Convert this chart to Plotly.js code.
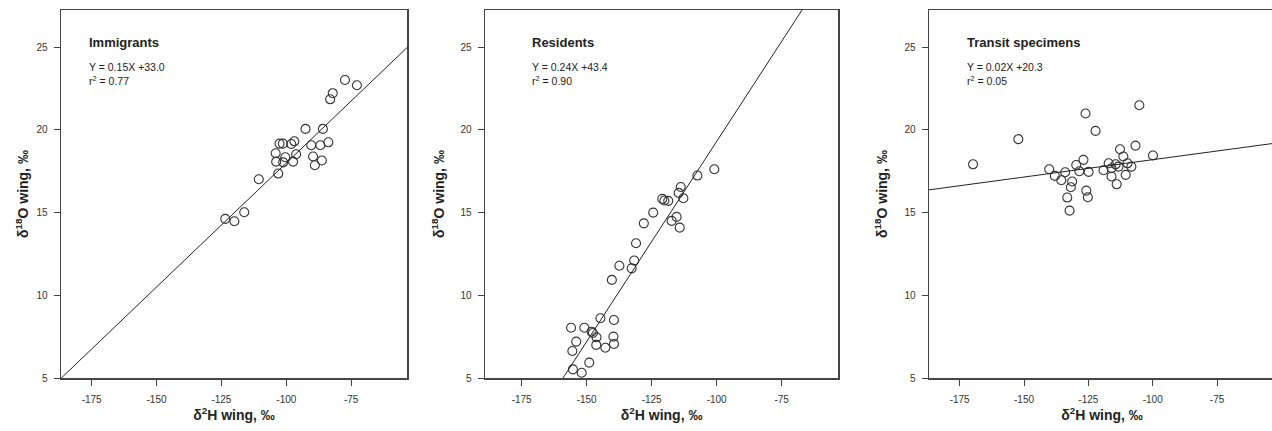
<!DOCTYPE html>
<html><head><meta charset="utf-8">
<script src="https://cdn.plot.ly/plotly-3.0.1.min.js"></script>
<style>html,body{margin:0;padding:0;overflow:hidden;background:#fff}</style>
</head><body><div id="chart" style="width:1280px;height:431px"></div>
<script>
// ---- data ----
const panelNames = ["Immigrants", "Residents", "Transit specimens"];
const equationTexts = ["Y = 0.15X +33.0", "Y = 0.24X +43.4", "Y = 0.02X +20.3"];
const r2Texts = ["r<sup>2</sup> = 0.77", "r<sup>2</sup> = 0.90", "r<sup>2</sup> = 0.05"];
const slopes = [0.15, 0.242, 0.021];
const intercepts = [33.0, 43.5, 20.3];
const xTickVals = [-175, -150, -125, -100, -75];
const yTickVals = [5, 10, 15, 20, 25];
const xTitle = "δ<sup>2</sup>H wing, ‰";
const yTitle = "δ<sup>18</sup>O wing, ‰";

const immX = [-123.5, -120.0, -116.2, -110.6, -103.1, -104.1, -103.9, -102.6, -101.3, -101.2, -100.4, -98.1, -96.9, -97.4, -96.2,
              -92.6, -85.9, -90.4, -86.9, -83.8, -89.7, -86.3, -89.0, -83.1, -82.1, -77.4, -72.8];
const immY = [14.62, 14.48, 15.02, 17.02, 17.36, 18.59, 18.08, 19.17, 19.17, 18.04, 18.35, 19.15, 19.31, 18.08, 18.53,
              20.06, 20.06, 19.07, 19.07, 19.25, 18.39, 18.15, 17.86, 21.85, 22.22, 23.02, 22.70];

const resX = [-100.9, -107.4, -113.8, -114.6, -112.8, -120.9, -120.1, -118.6, -124.4, -128.0, -115.4, -117.3, -114.2, -131.0, -131.7,
              -137.4, -140.3, -132.7, -144.7, -139.5, -156.0, -150.9, -148.1, -147.6, -146.2, -139.7, -154.0, -146.3, -142.8, -139.5,
              -155.5, -149.0, -155.3, -151.9];
const resY = [17.62, 17.24, 16.55, 16.19, 15.87, 15.83, 15.73, 15.71, 15.00, 14.35, 14.74, 14.50, 14.09, 13.15, 12.10,
              11.79, 10.93, 11.63, 8.61, 8.51, 8.04, 8.04, 7.80, 7.72, 7.46, 7.50, 7.20, 7.00, 6.83, 7.06,
              6.63, 5.93, 5.52, 5.32];

const traX = [-169.8, -152.2, -140.2, -138.0, -135.5, -134.0, -133.2, -132.3, -131.8, -131.3, -129.7, -128.5, -126.9, -126.1, -125.8,
              -125.2, -124.9, -122.2, -119.1, -117.1, -116.0, -116.0, -114.4, -114.0, -113.3, -112.7, -111.4, -110.5, -109.8, -108.3,
              -106.7, -105.2, -99.9];
const traY = [17.92, 19.44, 17.62, 17.22, 16.96, 17.44, 15.91, 15.12, 16.53, 16.88, 17.88, 17.50, 18.19, 20.99, 16.33,
              15.93, 17.46, 19.94, 17.56, 17.98, 17.18, 17.68, 17.92, 16.71, 17.78, 18.83, 18.39, 17.28, 17.98, 17.78,
              19.05, 21.49, 18.45];

const seriesX = [immX, resX, traX];
const seriesY = [immY, resY, traY];

// ---- layout geometry ----
const W = 1280, H = 431;
const domPx = [[61, 407], [485, 838.3], [929, 1275]];
const xRanges = [[-186.8, -53.5], [-189.1, -53.2], [-186.9, -52.5]];
const yRange = [5, 27.25];
const yTitleStandoff = [4, 12, 13];
const plotTop = 10, plotBottom = 378;

const font = "Liberation Sans, Arial, Helvetica, sans-serif";
const traces = [];
const layout = {
  width: W, height: H,
  margin: {l: 0, r: 0, t: 0, b: 0},
  paper_bgcolor: "#fff", plot_bgcolor: "#fff",
  showlegend: false,
  font: {family: font, color: "#222"},
  annotations: []
};

for (let i = 0; i < 3; i++) {
  const s = i === 0 ? "" : String(i + 1);
  const xa = "x" + s, ya = "y" + s;
  traces.push({
    type: "scatter", mode: "markers", x: seriesX[i], y: seriesY[i], xaxis: xa, yaxis: ya,
    marker: {symbol: "circle-open", size: 9, color: "#333", line: {width: 1.1, color: "#333"}},
    hoverinfo: "x+y"
  });
  const xr = xRanges[i];
  traces.push({
    type: "scatter", mode: "lines", xaxis: xa, yaxis: ya,
    x: xr, y: xr.map(v => slopes[i] * v + intercepts[i]),
    line: {color: "#222", width: 1}, hoverinfo: "skip"
  });
  layout["xaxis" + s] = {
    domain: [domPx[i][0] / W, domPx[i][1] / W], anchor: ya, range: xr,
    tickmode: "array", tickvals: xTickVals, ticktext: xTickVals.map(String),
    ticks: "outside", ticklen: 6, tickcolor: "#444", tickwidth: 1,
    showline: true, linecolor: "#444", linewidth: 1.5, mirror: true,
    showgrid: false, zeroline: false, ticklabelstandoff: 5,
    tickfont: {size: 10, color: "#333", family: font},
    title: {text: xTitle, standoff: 6, font: {size: 14, weight: "bold", color: "#222", family: font}}
  };
  layout["yaxis" + s] = {
    domain: [1 - plotBottom / H, 1 - plotTop / H], anchor: xa, range: yRange,
    tickmode: "array", tickvals: yTickVals, ticktext: yTickVals.map(String),
    ticks: "outside", ticklen: 6, tickcolor: "#444", tickwidth: 1,
    showline: true, linecolor: "#444", linewidth: 1.5, mirror: true,
    showgrid: false, zeroline: false, ticklabelstandoff: 4,
    tickfont: {size: 10, color: "#333", family: font},
    title: {text: yTitle, standoff: yTitleStandoff[i], font: {size: 14, weight: "bold", color: "#222", family: font}}
  };
}

const labelLeftPx = [87.3, 530, 965];
for (let i = 0; i < 3; i++) {
  const xp = labelLeftPx[i] / W;
  layout.annotations.push({
    xref: "paper", yref: "paper", x: xp, y: 1 - 42.3 / H, xanchor: "left", yanchor: "middle",
    text: panelNames[i], showarrow: false, font: {size: 13, weight: "bold", color: "#222", family: font}
  });
  layout.annotations.push({
    xref: "paper", yref: "paper", x: xp, y: 1 - 66.7 / H, xanchor: "left", yanchor: "middle",
    text: equationTexts[i], showarrow: false, font: {size: 10.5, color: "#222", family: font}
  });
  layout.annotations.push({
    xref: "paper", yref: "paper", x: xp, y: 1 - 80.5 / H, xanchor: "left", yanchor: "middle",
    text: r2Texts[i], showarrow: false, font: {size: 10.5, color: "#222", family: font}
  });
}

Plotly.newPlot("chart", traces, layout, {displayModeBar: false, staticPlot: true});
</script></body></html>
